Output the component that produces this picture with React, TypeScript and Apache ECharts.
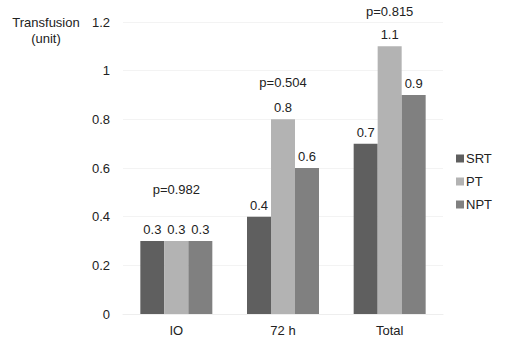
import React, { useEffect, useRef } from "react";
import * as echarts from "echarts";

const categories = ["IO", "72 h", "Total"];
const seriesNames = ["SRT", "PT", "NPT"];
const srt = [0.3, 0.4, 0.7];
const pt = [0.3, 0.8, 1.1];
const npt = [0.3, 0.6, 0.9];
const pValues = ["p=0.982", "p=0.504", "p=0.815"];
const pLabelLevels = [0.51, 0.95, 1.245];
const yAxisTitle = "Transfusion\n(unit)";
const colors = ["#5f5f5f", "#b3b3b3", "#808080"];

export default function App() {
  const ref = useRef<HTMLDivElement>(null);
  useEffect(() => {
    if (!ref.current) return;
    const chart = echarts.init(ref.current, undefined, { renderer: "svg" });
    const font = "Liberation Sans, Arial, sans-serif";
    const values = [srt, pt, npt];
    chart.setOption({
      animation: false,
      textStyle: { fontFamily: font },
      grid: { left: 123, right: 62, top: 22, bottom: 29, containLabel: false, outerBoundsMode: "none" },
      legend: {
        orient: "vertical",
        right: 8,
        top: 147,
        itemWidth: 8,
        itemHeight: 8,
        itemGap: 10,
        icon: "rect",
        data: seriesNames,
        textStyle: { fontSize: 13, color: "#222", fontFamily: font, padding: [0, 0, 0, -3] },
      },
      xAxis: {
        type: "category",
        data: categories,
        axisLine: { show: true, lineStyle: { color: "#eeeeee" } },
        axisTick: { show: false },
        axisLabel: { fontSize: 13, color: "#222", margin: 10 },
      },
      yAxis: {
        type: "value",
        min: 0,
        max: 1.2,
        interval: 0.2,
        axisLine: { show: false },
        axisTick: { show: false },
        splitLine: { lineStyle: { color: "#f3f3f3" } },
        axisLabel: { fontSize: 13, color: "#222", margin: 13, formatter: (v: number) => String(Math.round(v * 10) / 10) },
      },
      series: seriesNames.map((name, i) => ({
        name,
        type: "bar",
        data: values[i],
        barWidth: 24,
        barGap: "0%",
        itemStyle: { color: colors[i] },
        label: { show: true, position: "top", fontSize: 13, color: "#222", distance: 5 },
      })),
    });
    const graphics: any[] = categories.map((c, i) => {
      const [x, y] = chart.convertToPixel({ gridIndex: 0 }, [c, pLabelLevels[i]]) as number[];
      return {
        type: "text",
        x,
        y,
        style: { text: pValues[i], fontSize: 13, fill: "#222", fontFamily: font, align: "center", verticalAlign: "middle" },
      };
    });
    const topY = chart.convertToPixel({ yAxisIndex: 0 }, 1.2) as number;
    graphics.push({
      type: "text",
      x: 46,
      y: topY - 8,
      style: { text: yAxisTitle, fontSize: 13, lineHeight: 16, fill: "#222", fontFamily: font, align: "center", verticalAlign: "top" },
    });
    chart.setOption({ graphic: graphics });
    return () => chart.dispose();
  }, []);
  return <div ref={ref} style={{ width: 505, height: 343, position: "absolute", left: 0, top: 0, background: "#fff" }} />;
}
